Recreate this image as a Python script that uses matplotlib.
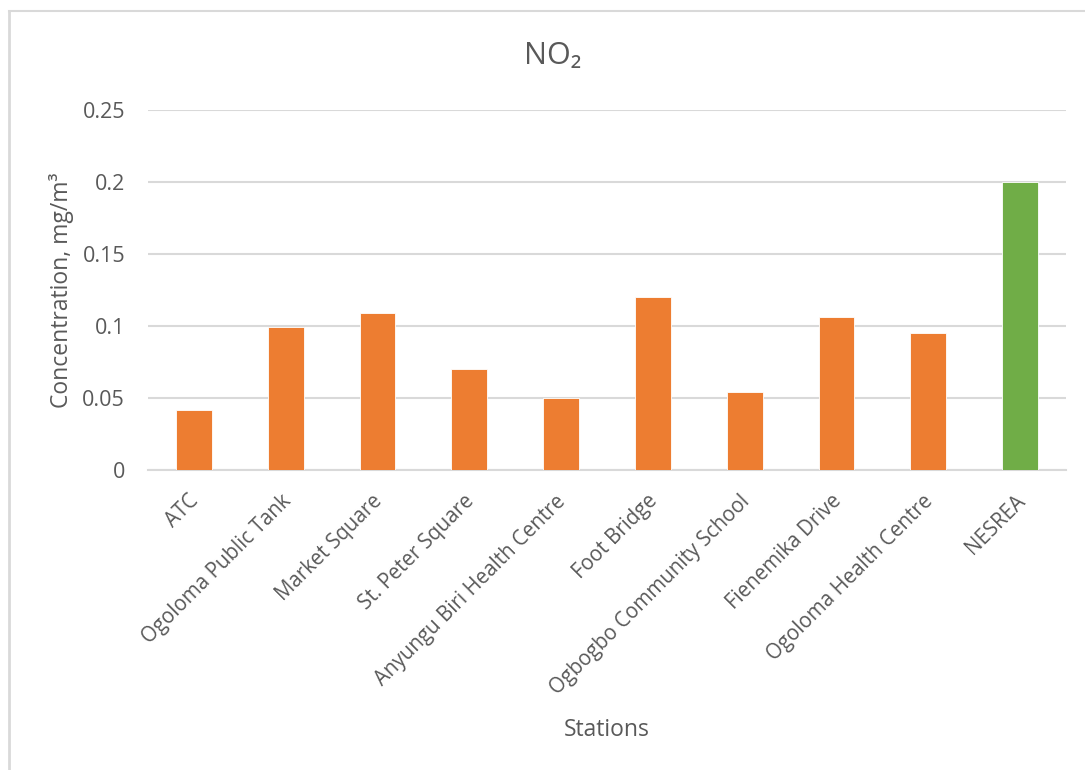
import numpy as np
import matplotlib
matplotlib.use("Agg")
import matplotlib.pyplot as plt
import matplotlib.transforms as mtransforms
from matplotlib.lines import Line2D

# NO2 concentration per monitoring station (mg/m3), last bar is the NESREA limit
stations = [
    "ATC",
    "Ogoloma Public Tank",
    "Market Square",
    "St. Peter Square",
    "Anyungu Biri Health Centre",
    "Foot Bridge",
    "Ogbogbo Community School",
    "Fienemika Drive",
    "Ogoloma Health Centre",
    "NESREA",
]
no2 = [0.042, 0.099, 0.109, 0.070, 0.050, 0.120, 0.054, 0.106, 0.095, 0.200]
standard_name = "NESREA"
y_ticks = [0, 0.05, 0.1, 0.15, 0.2, 0.25]
y_tick_labels = ["0", "0.05", "0.1", "0.15", "0.2", "0.25"]

ORANGE = "#ED7D31"
GREEN = "#70AD47"
GRID = "#D9D9D9"
TEXT = "#595959"

plt.rcParams["font.family"] = ["Open Sans", "DejaVu Sans"]

fig = plt.figure(figsize=(10.85, 7.7), dpi=100)
ax = fig.add_axes([0.1364, 0.3896, 0.8461, 0.4675])

x = np.arange(len(stations))
colors = [GREEN if s == standard_name else ORANGE for s in stations]
ax.bar(x, no2, width=0.39, color=colors, edgecolor="white", linewidth=0.6, zorder=3)

ax.set_xlim(-0.5, len(stations) - 0.5)
ax.set_ylim(0, 0.25)
ax.set_yticks(y_ticks)
ax.set_yticklabels(y_tick_labels)
ax.yaxis.grid(True, color=GRID, linewidth=1.5, zorder=0)
ax.tick_params(axis="both", length=0, colors=TEXT)
ax.tick_params(axis="y", pad=16.5, labelsize=15.5)
ax.tick_params(axis="x", pad=15, labelsize=14.8)

ax.set_xticks(x)
ax.set_xticklabels(stations, rotation=45, ha="right", rotation_mode="anchor")
# nudge the slanted station names a little to the left
shift = mtransforms.ScaledTranslation(-4 / 72, 0, fig.dpi_scale_trans)
for lbl in ax.get_xticklabels():
    lbl.set_transform(lbl.get_transform() + shift)

for side in ["top", "right", "left"]:
    ax.spines[side].set_visible(False)
ax.spines["bottom"].set_color(GRID)
ax.spines["bottom"].set_linewidth(1.5)

ax.set_ylabel("Concentration, mg/m\u00b3", fontsize=16.5, color=TEXT, labelpad=6)
ax.set_xlabel("Stations", fontsize=16.5, color=TEXT, labelpad=14)
fig.text(0.5097, 0.927, "NO\u2082", fontsize=22, color=TEXT, ha="center",
         va="center")

# chart frame (top and left edges)
fig.add_artist(Line2D([0.0085, 0.0085], [0.0, 0.9857], color=GRID, linewidth=2,
                      transform=fig.transFigure))
fig.add_artist(Line2D([0.0085, 1.0], [0.9857, 0.9857], color=GRID, linewidth=1.5,
                      transform=fig.transFigure))

fig.savefig("out.png", dpi=100, facecolor="white")
